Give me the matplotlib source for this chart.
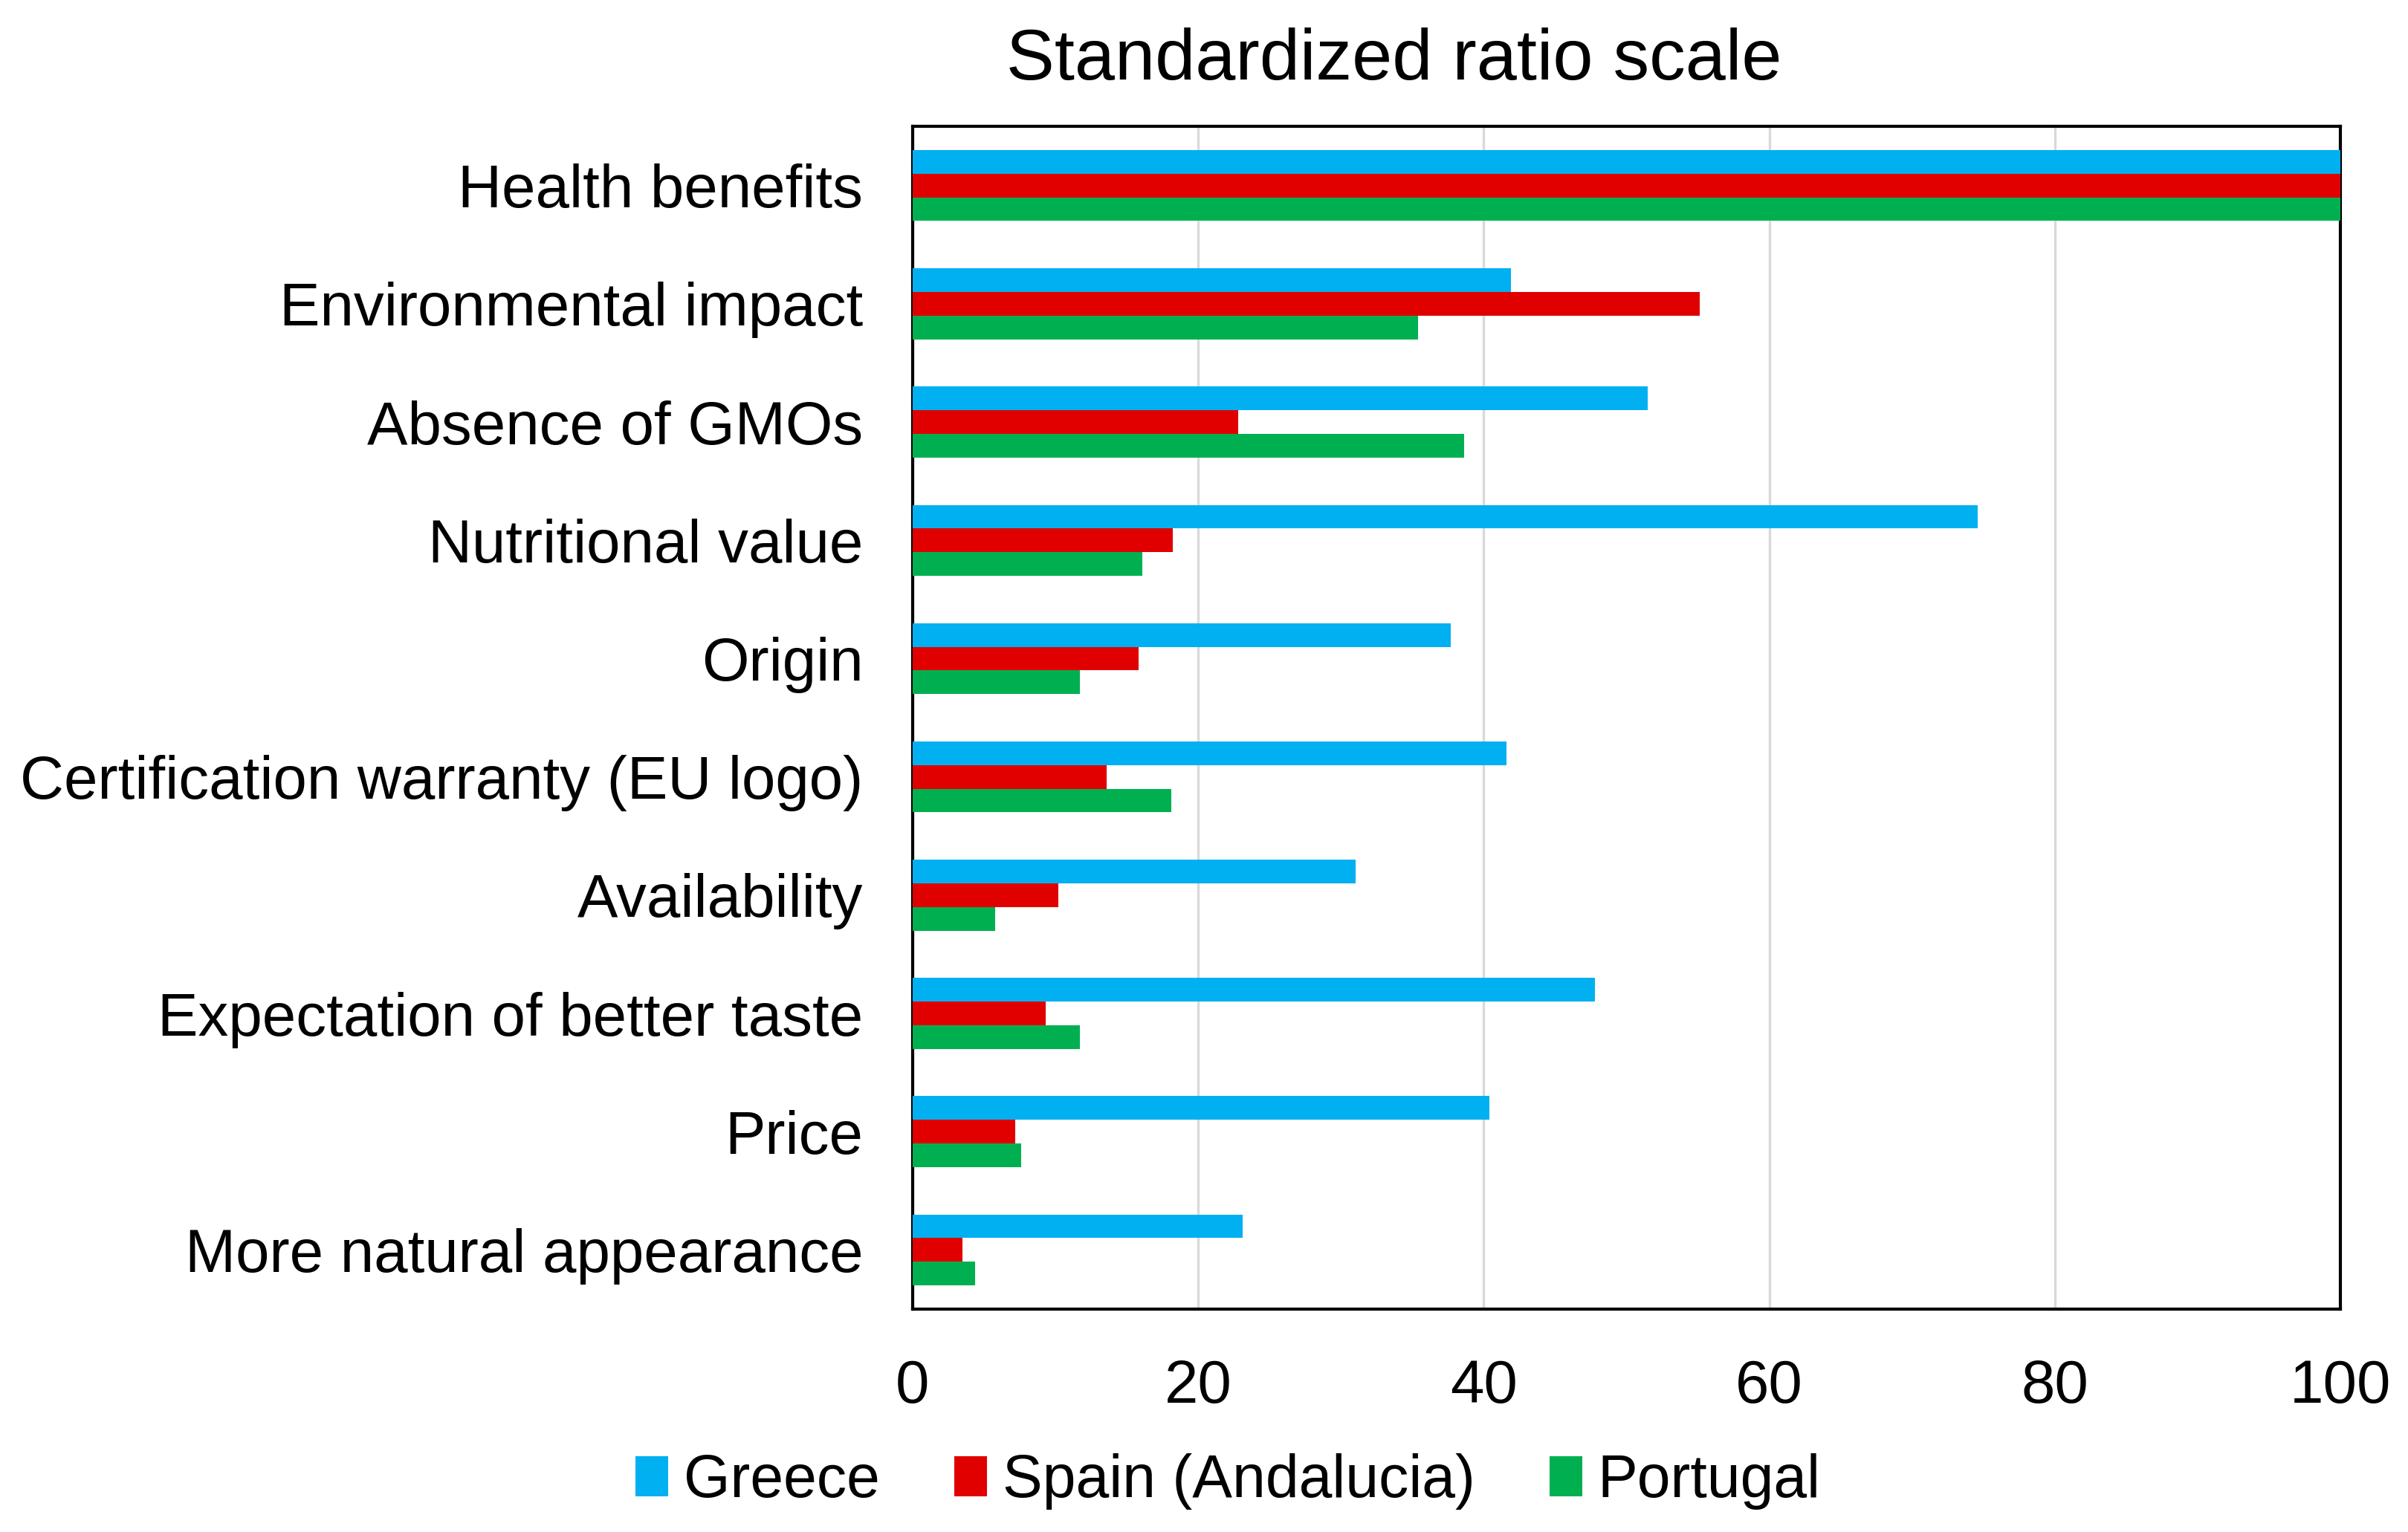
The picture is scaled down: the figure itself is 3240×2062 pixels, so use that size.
import matplotlib
matplotlib.use("Agg")
import numpy as np
import matplotlib.pyplot as plt

plt.rcParams["font.family"] = ["Liberation Sans", "DejaVu Sans"]

categories = [
    "Health benefits",
    "Environmental impact",
    "Absence of GMOs",
    "Nutritional value",
    "Origin",
    "Certification warranty (EU logo)",
    "Availability",
    "Expectation of better taste",
    "Price",
    "More natural appearance",
]

greece = [100, 41.9, 51.5, 74.6, 37.7, 41.6, 31.0, 47.8, 40.4, 23.1]
spain = [100, 55.1, 22.8, 18.2, 15.8, 13.6, 10.2, 9.3, 7.2, 3.5]
portugal = [100, 35.4, 38.6, 16.1, 11.7, 18.1, 5.8, 11.7, 7.6, 4.4]

series_names = ["Greece", "Spain (Andalucia)", "Portugal"]
colors = ["#00B0F0", "#E00000", "#00B050"]

fig = plt.figure(figsize=(16.2, 10.31), dpi=200)
ax = fig.add_axes([0.379, 0.1455, 0.593, 0.772])

y = np.arange(len(categories))
h = 0.2
for i, (vals, name, c) in enumerate(zip([greece, spain, portugal], series_names, colors)):
    ax.barh(y + (i - 1) * h, vals, height=h, color=c, label=name, zorder=3)

ax.set_ylim(len(categories) - 0.5, -0.5)
ax.set_xlim(0, 100)
ax.set_xticks([0, 20, 40, 60, 80, 100])
ax.set_yticks(y)
ax.set_yticklabels(categories)
ax.tick_params(axis="both", length=0, labelsize=29.4)
ax.tick_params(axis="x", pad=24)
ax.tick_params(axis="y", pad=24)
ax.grid(axis="x", color="#d9d9d9", linewidth=1.2, zorder=0)
for s in ax.spines.values():
    s.set_color("black")
    s.set_linewidth(1.5)

fig.text(0.579, 0.96, "Standardized ratio scale", ha="center", va="center", fontsize=35)

fig.legend(loc="center", bbox_to_anchor=(0.51, 0.033), ncol=3, frameon=False,
           fontsize=29, handlelength=0.55, handleheight=0.65, handletextpad=0.25,
           columnspacing=1.25)

fig.savefig("out.png", dpi=200)
